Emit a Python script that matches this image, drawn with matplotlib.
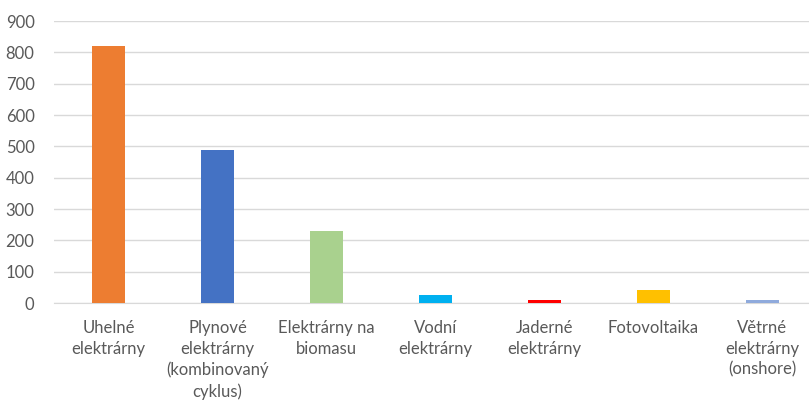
import matplotlib
matplotlib.use('Agg')
from matplotlib import pyplot as plt

# data
categories = ['Uhelné\nelektrárny', 'Plynové\nelektrárny\n(kombinovaný\ncyklus)',
              'Elektrárny na\nbiomasu', 'Vodní\nelektrárny', 'Jaderné\nelektrárny',
              'Fotovoltaika', 'Větrné\nelektrárny\n(onshore)']
values = [820, 487, 230, 24, 10, 43, 10]
colors = ['#ED7D31', '#4472C4', '#A9D18E', '#00B0F0', '#FF0000', '#FFC000', '#8FAADC']
yticks = [0, 100, 200, 300, 400, 500, 600, 700, 800, 900]

plt.rcParams['font.family'] = ['Lato', 'DejaVu Sans']

fig = plt.figure(figsize=(8.09, 4.01), dpi=100)
ax = fig.add_axes([54 / 809, 1 - 303 / 401, 755 / 809, 282 / 401])

x = list(range(len(categories)))
ax.bar(x, values, width=0.31, color=colors, zorder=3)

ax.set_xlim(-0.5, -0.5 + 755 / 109)
ax.set_ylim(0, 900)
ax.set_yticks(yticks)
ax.set_xticks(x)
ax.set_xticklabels(categories, linespacing=1.38)

ax.grid(axis='y', color='#d9d9d9', linewidth=1, zorder=0)
for s in ['top', 'right', 'left']:
    ax.spines[s].set_visible(False)
ax.spines['bottom'].set_color('#d9d9d9')
ax.tick_params(axis='both', length=0, labelsize=12, colors='#595959')
ax.tick_params(axis='y', pad=14)
ax.tick_params(axis='x', pad=12)

fig.savefig('out.png', dpi=100)
